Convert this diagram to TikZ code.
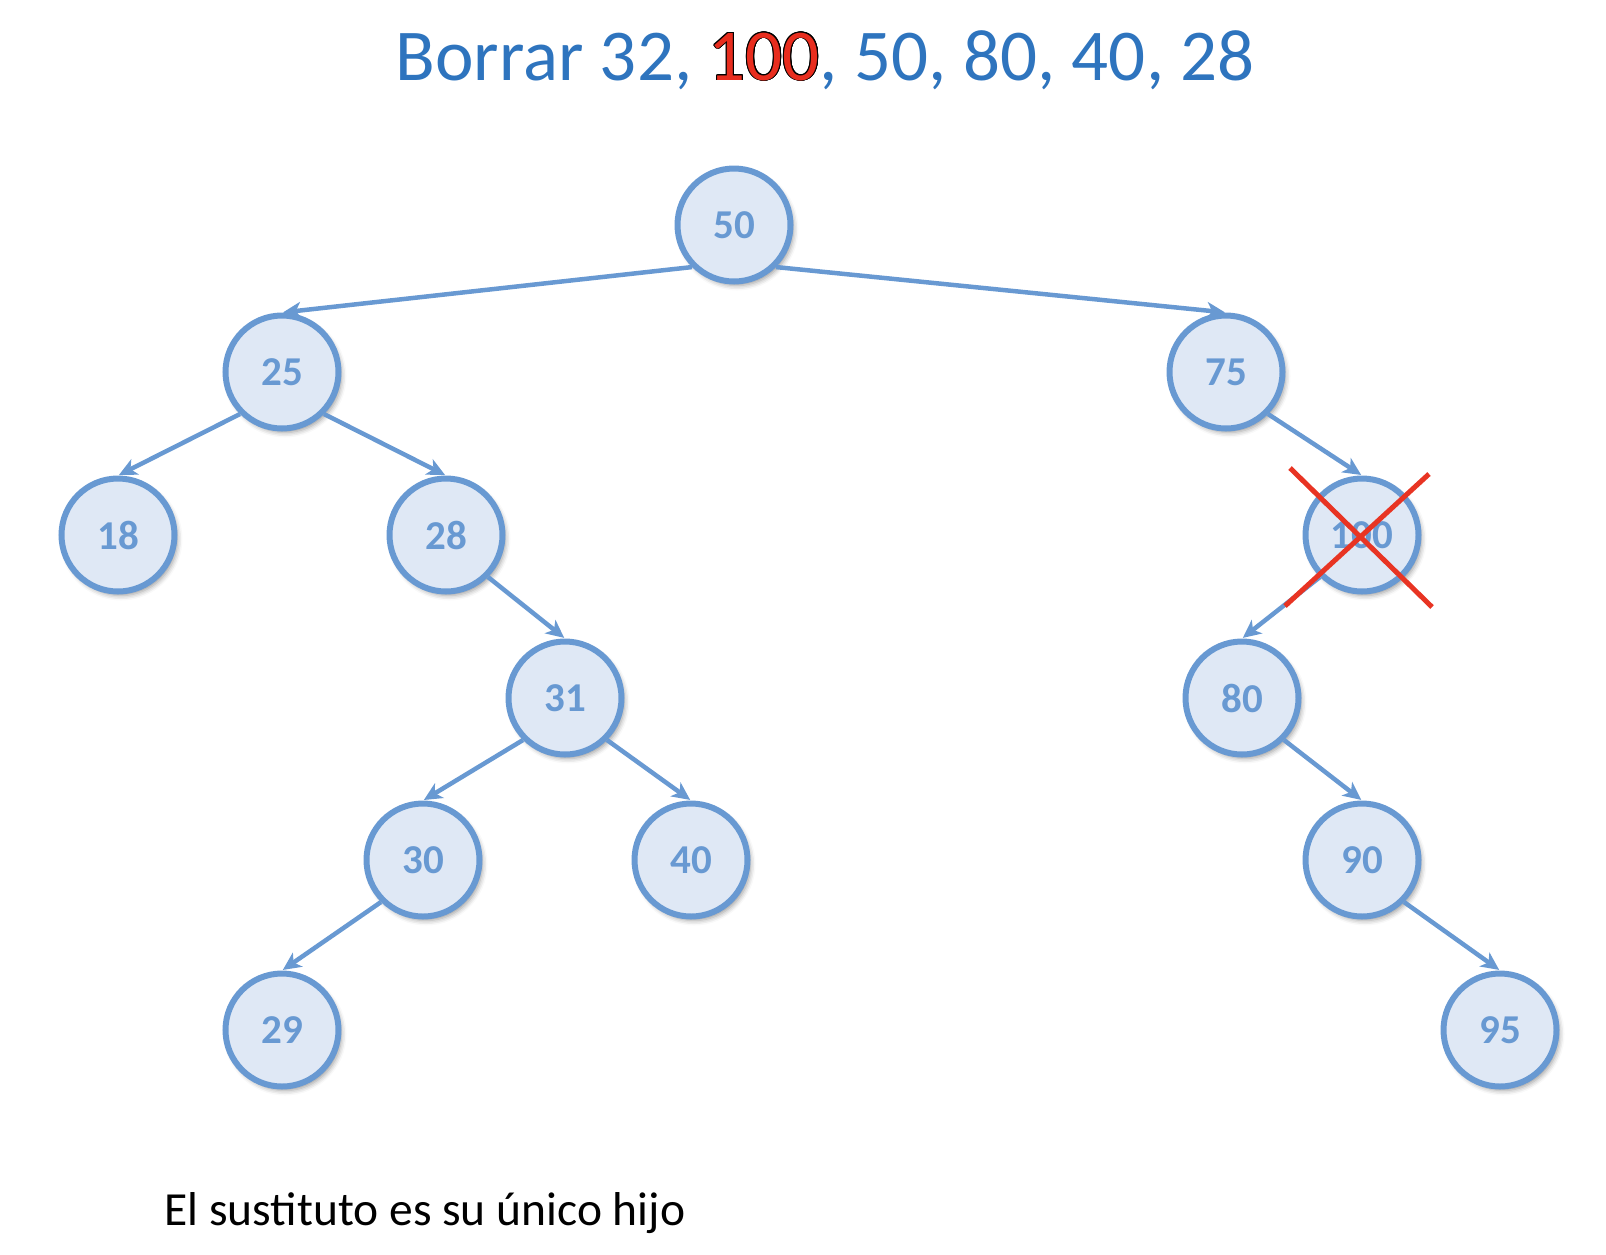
\documentclass[tikz,border=0pt]{standalone}
\usepackage{fontspec}
\setmainfont{Carlito}
\usepackage{contour}
\contourlength{0.9pt}
\usetikzlibrary{arrows.meta,shadows.blur}
\definecolor{titleblue}{RGB}{46,116,190}
\definecolor{nodeblue}{RGB}{104,153,210}
\definecolor{nodefill}{RGB}{223,232,245}
\definecolor{xred}{RGB}{232,52,35}
\definecolor{tred}{RGB}{232,45,30}
\tikzset{
  bnode/.style={circle, draw=nodeblue, line width=6pt, fill=nodefill,
    minimum size=113pt, inner sep=0pt, text=nodeblue,
    font=\fontsize{41}{41}\selectfont\bfseries,
    blur shadow={shadow xshift=3pt, shadow yshift=-4pt, shadow blur radius=5pt, shadow opacity=40}},
  link/.style={draw=nodeblue, line width=4.5pt,
    -{Stealth[length=18pt,width=17pt,inset=5pt]}, shorten >=1pt},
  cross/.style={draw=xred, line width=5pt}
}
\begin{document}
\begin{tikzpicture}[x=1pt,y=-1pt]
\useasboundingbox (0,0) rectangle (1606,1254);
\node[anchor=base, text=titleblue, font=\fontsize{73}{73}\selectfont] (title) at (825,80)
  {Borrar 32, \contour{black}{\textcolor{tred}{100}}, 50, 80, 40, 28};
\node[bnode] (n50) at (734,225) {50};
\node[bnode] (n25) at (282,372) {25};
\node[bnode] (n75) at (1226,372) {75};
\node[bnode] (n18) at (118,535) {18};
\node[bnode] (n28) at (446,535) {28};
\node[bnode] (n100) at (1362,535) {100};
\node[bnode] (n31) at (565,698) {31};
\node[bnode] (n80) at (1242,698) {80};
\node[bnode] (n30) at (423,860) {30};
\node[bnode] (n40) at (691,860) {40};
\node[bnode] (n90) at (1362,860) {90};
\node[bnode] (n29) at (282,1030) {29};
\node[bnode] (n95) at (1500,1030) {95};
\draw[link] (n50.south west) -- (n25.north);
\draw[link] (n50.south east) -- (n75.north);
\draw[link] (n25.south west) -- (n18.north);
\draw[link] (n25.south east) -- (n28.north);
\draw[link] (n28.south east) -- (n31.north);
\draw[link] (n31.south west) -- (n30.north);
\draw[link] (n31.south east) -- (n40.north);
\draw[link] (n30.south west) -- (n29.north);
\draw[link] (n75.south east) -- (n100.north);
\draw[link] (n100.south west) -- (n80.north);
\draw[link] (n80.south east) -- (n90.north);
\draw[link] (n90.south east) -- (n95.north);
\coordinate (xa1) at (1290,468);
\coordinate (xa2) at (1432,607);
\coordinate (xb1) at (1429,474);
\coordinate (xb2) at (1285,606);
\draw[cross] (xa1) -- (xa2);
\draw[cross] (xb1) -- (xb2);
\node[anchor=base west, font=\fontsize{47.5}{47.5}\selectfont] (caption) at (161,1225)
  {El sustituto es su único hijo};
\end{tikzpicture}
\end{document}
